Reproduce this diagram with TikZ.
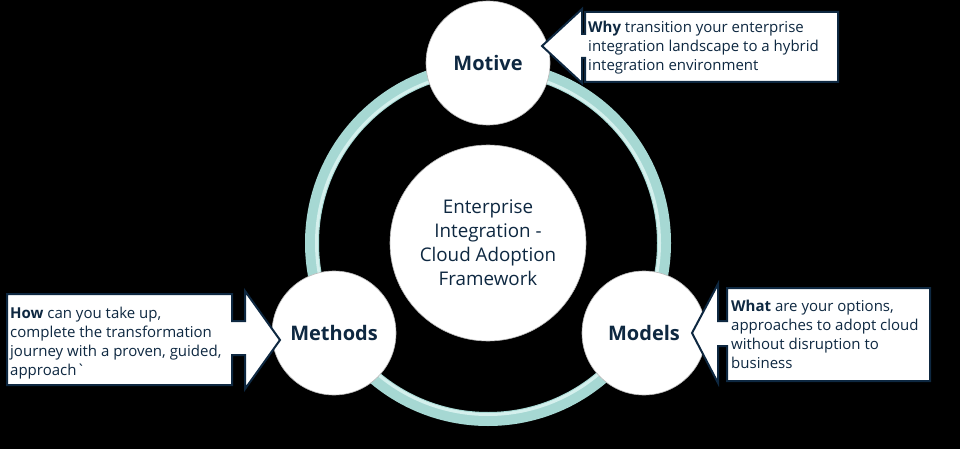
\documentclass[tikz,border=0pt]{standalone}
\usepackage{fontspec}
\setmainfont{Open Sans}
\definecolor{navy}{RGB}{14,40,65}
\definecolor{ringc}{RGB}{166,216,211}
\definecolor{ringhi}{RGB}{212,240,237}
\begin{document}
\begin{tikzpicture}[x=1pt,y=-1pt,
 circ/.style={circle, fill=white, draw=gray!55, line width=0.6pt, inner sep=0pt, text=navy},
 callout/.style={fill=white, draw=navy, line width=2pt, line join=miter},
 ctext/.style={anchor=north west, align=left, text=navy, font=\fontsize{15}{19}\selectfont, inner sep=0pt},
 lbl/.style={font=\fontsize{20}{24}\selectfont\bfseries}]
\useasboundingbox (0,0) rectangle (960,449);
\fill[black] (0,0) rectangle (960,449);
% ring
\draw[ringc, line width=14pt] (488,243) circle (176);
\draw[ringhi, line width=3pt] (488,243) circle (171.5);
% circles
\node[circ, minimum size=196pt, align=center, font=\fontsize{18.8}{24}\selectfont] (core) at (488,243) {Enterprise\\Integration -\\Cloud Adoption\\Framework};
\node[circ, minimum size=124pt, lbl] (motive) at (488,63) {Motive};
\node[circ, minimum size=124pt, lbl] (methods) at (334,333) {Methods};
\node[circ, minimum size=124pt, lbl] (models) at (644,333) {Models};
% callout shapes
\draw[callout] (838,12) -- (585,12) -- (585,34) -- (582,34) -- (582,9) -- (542,46) -- (582,83) -- (582,58) -- (585,58) -- (585,82) -- (838,82) -- cycle;
\draw[callout] (7,294) -- (232,294) -- (232,321) -- (245,321) -- (245,291) -- (280,340) -- (245,389) -- (245,355) -- (232,355) -- (232,385) -- (7,385) -- cycle;
\draw[callout] (930,288) -- (727,288) -- (727,321) -- (718,321) -- (718,284) -- (692,333) -- (718,383) -- (718,346) -- (727,346) -- (727,381) -- (930,381) -- cycle;
% callout texts
\node[ctext] (why) at (588,21) {\textbf{Why} transition your enterprise\\integration landscape to a hybrid\\integration environment};
\node[ctext] (how) at (10,307) {\textbf{How} can you take up,\\complete the transformation\\journey with a proven, guided,\\approach\textasciigrave};
\node[ctext] (what) at (731,300) {\textbf{What} are your options,\\approaches to adopt cloud\\without disruption to\\business};
\end{tikzpicture}
\end{document}
